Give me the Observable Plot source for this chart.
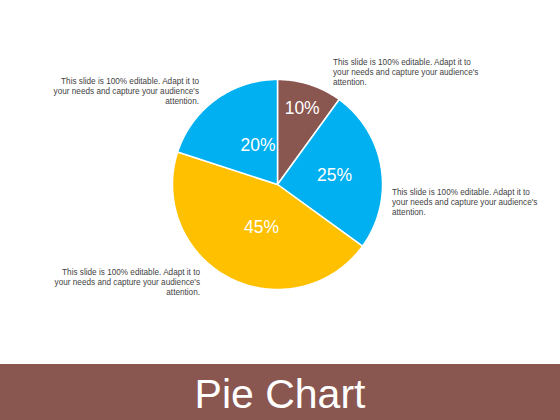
<!DOCTYPE html>
<html><head><meta charset="utf-8">
<script src="https://cdn.jsdelivr.net/npm/d3@7"></script>
<script src="https://cdn.jsdelivr.net/npm/@observablehq/plot@0.6"></script>
<style>
body{margin:0;background:#fff;font-family:"Liberation Sans",Arial,sans-serif;}
#wrap{position:relative;width:560px;height:420px;overflow:hidden;}
#chart{position:absolute;left:0;top:0;}
.note{position:absolute;font-size:8.2px;line-height:10px;color:#3f3f3f;white-space:nowrap;}
.note.r{text-align:right;}
#band{position:absolute;left:0;top:364px;width:560px;height:56px;background:#8A5650;}
#title{position:absolute;left:0;top:10px;width:560px;text-align:center;color:#fff;font-size:41px;line-height:41px;}
</style>
</head><body>
<div id="wrap">
  <div id="chart"></div>
  <div id="band"><div id="title"></div></div>
</div>
<script>
// ---- data ----
const slices = ["Brown", "Blue A", "Yellow", "Blue B"];       // clockwise from 12 o'clock
const values = [10, 25, 45, 20];                                // percent
const colors = ["#8A5650", "#00B0F0", "#FFC000", "#00B0F0"];
const labels = ["10%", "25%", "45%", "20%"];
const noteText = [
  "This slide is 100% editable. Adapt it to",
  "your needs and capture your audience's",
  "attention."
];
const titleText = "Pie Chart";

// ---- layout (not data) ----
const labelRadius = [0.76, 0.55, 0.44, 0.42]; // label distance as a fraction of the radius
const labelTurn = [0, 0, -0.12, 0.17];         // small angular nudge (radians) of each label
const notes = [
  {cls: "r", right: 361, top: 77},   // top-left
  {cls: "",  left: 333, top: 58},    // top-right
  {cls: "",  left: 392, top: 188},   // right
  {cls: "r", right: 360, top: 268}   // bottom-left
];

// ---- geometry from values ----
const total = d3.sum(values);
let acc = 0;
const arcs = values.map((v, i) => {
  const a0 = acc / total * 2 * Math.PI;
  acc += v;
  const a1 = acc / total * 2 * Math.PI;
  return {i, a0, a1};
});
const poly = [];
for (const {i, a0, a1} of arcs) {
  poly.push({slice: slices[i], color: colors[i], x: 0, y: 0});
  const n = Math.max(2, Math.ceil((a1 - a0) / (Math.PI / 180)));
  for (let k = 0; k <= n; k++) {
    const a = a0 + (a1 - a0) * k / n;
    poly.push({slice: slices[i], color: colors[i], x: Math.sin(a), y: Math.cos(a)});
  }
  poly.push({slice: slices[i], color: colors[i], x: 0, y: 0});
}
const labelData = arcs.map(({i, a0, a1}) => {
  const m = (a0 + a1) / 2 + labelTurn[i];
  return {label: labels[i], x: labelRadius[i] * Math.sin(m), y: labelRadius[i] * Math.cos(m)};
});

const chart = Plot.plot({
  width: 560,
  height: 364,
  marginLeft: 172,
  marginRight: 178,
  marginTop: 79,
  marginBottom: 75,
  x: {domain: [-1, 1], axis: null},
  y: {domain: [-1, 1], axis: null},
  style: {fontFamily: "'Liberation Sans', Arial, sans-serif", background: "transparent"},
  marks: [
    Plot.line(poly, {x: "x", y: "y", z: "slice", fill: "color", stroke: "white", strokeWidth: 1.5, strokeLinejoin: "round"}),
    Plot.text(labelData, {x: "x", y: "y", text: "label", fill: "white", fontSize: 17.5})
  ]
});
document.getElementById("chart").appendChild(chart);

const wrap = document.getElementById("wrap");
for (const n of notes) {
  const d = document.createElement("div");
  d.className = "note " + n.cls;
  d.style.top = n.top + "px";
  if (n.left != null) d.style.left = n.left + "px";
  if (n.right != null) d.style.right = n.right + "px";
  d.innerHTML = noteText.join("<br>");
  wrap.appendChild(d);
}
document.getElementById("title").textContent = titleText;
</script>
</body></html>
